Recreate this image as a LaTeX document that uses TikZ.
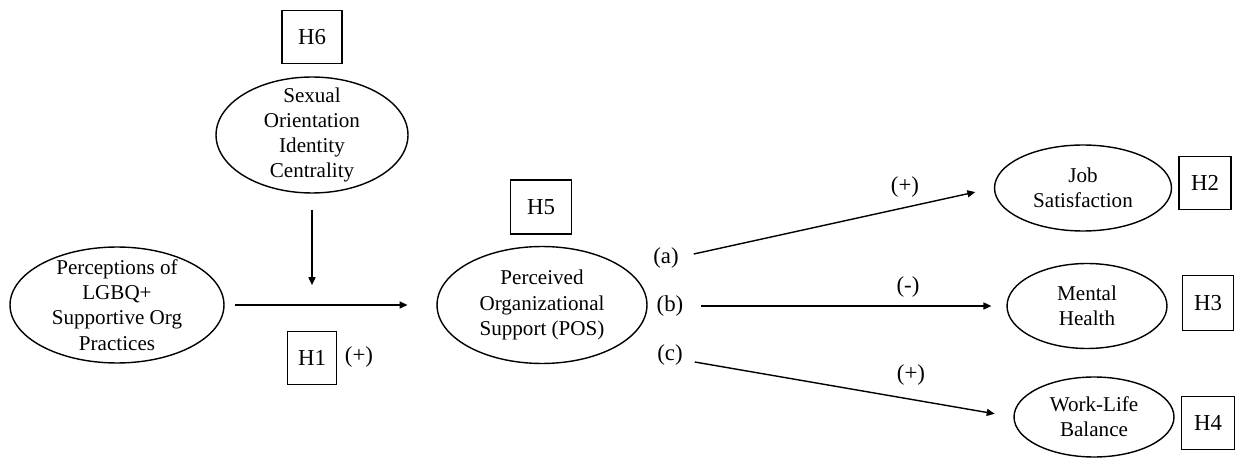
\documentclass[tikz,border=0pt]{standalone}
\usepackage{fontspec}
\setmainfont{Liberation Serif}
\usetikzlibrary{arrows.meta, positioning, calc, shapes.geometric}

\tikzset{
  latent/.style={ellipse, draw, line width=0.8pt, inner sep=0pt},
  latxt/.style={align=center, font=\fontsize{12}{14.3}\selectfont, inner sep=0pt},
  hyp/.style={draw, line width=0.8pt, minimum width=1.04cm, minimum height=1.06cm, inner sep=0pt, font=\fontsize{13}{15}\selectfont},
  sgn/.style={inner sep=1pt, font=\fontsize{13}{15}\selectfont},
  link/.style={-{Triangle[length=4.5pt,width=4pt]}, line width=0.8pt},
}

\begin{document}
\begin{tikzpicture}[x=0.02cm, y=-0.02cm]
  \useasboundingbox (0,0) rectangle (1241,459);

  % Moderator
  \node[hyp, minimum width=1.2cm] (h6) at (312,37) {H6};
  \node[latent, minimum width=3.84cm, minimum height=2.32cm,
        label={[latxt]center:Sexual\\Orientation\\Identity\\Centrality}] (soic) at (312,135) {};

  % Predictor
  \node[latent, minimum width=4.28cm, minimum height=2.32cm,
        label={[latxt]center:Perceptions of\\LGBQ+\\Supportive Org\\Practices}] (lgbq) at (117,305) {};
  \node[hyp, minimum width=0.98cm] (h1) at (312,358) {H1};
  \node[sgn] (p1) at (359,357) {(+)};

  % Mediator
  \node[hyp, minimum width=1.22cm, minimum height=1.08cm] (h5) at (541,207) {H5};
  \node[latent, minimum width=4.2cm, minimum height=2.34cm,
        label={[latxt]center:Perceived\\Organizational\\Support (POS)}] (pos) at (542,305) {};
  \node[sgn] (la) at (666,258) {(a)};
  \node[sgn] (lb) at (670,306) {(b)};
  \node[sgn] (lc) at (670,355) {(c)};

  % Outcomes
  \node[latent, minimum width=3.54cm, minimum height=1.72cm,
        label={[latxt]center:Job\\Satisfaction}] (job) at (1083,188) {};
  \node[hyp] (h2) at (1205,183) {H2};
  \node[latent, minimum width=3.2cm, minimum height=1.7cm,
        label={[latxt]center:Mental\\Health}] (mh) at (1087,306) {};
  \node[hyp, minimum width=1.02cm, minimum height=1.1cm] (h3) at (1208,303) {H3};
  \node[latent, minimum width=3.2cm, minimum height=1.6cm,
        label={[latxt]center:Work-Life\\Balance}] (wl) at (1094,417) {};
  \node[hyp, minimum width=1.06cm] (h4) at (1208,423) {H4};

  \node[sgn] (pa) at (905,187) {(+)};
  \node[sgn] (mb) at (908,287) {(-)};
  \node[sgn] (pc) at (911,375) {(+)};

  % Paths
  \coordinate (join) at (312,305);
  \draw[link, shorten <=5.7pt, shorten >=16.4pt] (lgbq.east) -- (pos.west);
  \draw[link, shorten <=9pt, shorten >=11.3pt] (soic.south) -- (join);
  \draw[link, shorten >=10.8pt] ([shift={(13,-4)}]la.east) -- (job.west);
  \draw[link, shorten >=8.5pt] ([xshift=9]lb.east) -- (mh.west);
  \draw[link, shorten >=10.8pt] ([shift={(10,7)}]lc.east) -- (wl.west);
\end{tikzpicture}
\end{document}
